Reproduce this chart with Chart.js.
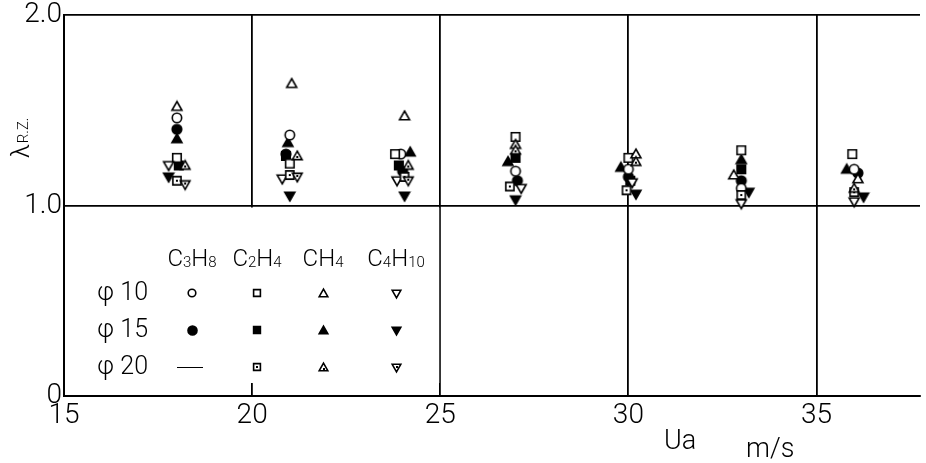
<!DOCTYPE html>
<html lang="en">
<head>
<meta charset="UTF-8">
<title>lambda R.Z. vs Ua</title>
<style>
  html, body { margin: 0; padding: 0; background: #fff; }
  #wrap { width: 926px; height: 463px; }
</style>
</head>
<body>
<div id="wrap"><canvas id="chart"></canvas></div>
<script src="https://cdn.jsdelivr.net/npm/chart.js"></script>
<script>
// ---- data (Ua in m/s, lambda R.Z.) ----
const xTicks = [15, 20, 25, 30, 35];
const yTicks = [0, 1, 2];

// C3H8
const c3h8_d10_x = [18.0, 21.0, 23.95, 27.0, 30.0, 33.0, 36.0];
const c3h8_d10_y = [1.46, 1.37, 1.27, 1.18, 1.19, 1.09, 1.19];
const c3h8_d15_x = [18.0, 20.9, 24.0, 27.05, 30.0, 33.0, 36.1];
const c3h8_d15_y = [1.40, 1.27, 1.18, 1.13, 1.15, 1.13, 1.17];
// C2H4
const c2h4_d10_x = [18.0, 21.0, 23.8, 27.0, 30.0, 33.0, 35.95];
const c2h4_d10_y = [1.25, 1.22, 1.27, 1.36, 1.25, 1.29, 1.27];
const c2h4_d15_x = [18.05, 20.9, 23.9, 27.0, 30.05, 33.0];
const c2h4_d15_y = [1.21, 1.26, 1.21, 1.25, 1.13, 1.19];
const c2h4_d20_x = [18.0, 21.0, 24.05, 26.85, 29.95, 33.0, 36.0];
const c2h4_d20_y = [1.13, 1.16, 1.15, 1.10, 1.08, 1.055, 1.07];
// CH4
const ch4_d10_x = [18.0, 21.05, 24.05, 27.0, 30.2, 32.8, 36.1];
const ch4_d10_y = [1.52, 1.64, 1.47, 1.32, 1.27, 1.16, 1.14];
const ch4_d15_x = [18.0, 20.95, 24.2, 26.8, 29.8, 33.0, 35.8];
const ch4_d15_y = [1.35, 1.33, 1.28, 1.23, 1.20, 1.24, 1.19];
const ch4_d20_x = [18.22, 21.2, 24.15, 27.0, 30.2, 36.0];
const ch4_d20_y = [1.21, 1.26, 1.21, 1.29, 1.23, 1.09];
// C4H10
const c4h10_d10_x = [17.78, 20.8, 23.85, 27.15, 30.1, 33.0, 36.0];
const c4h10_d10_y = [1.21, 1.14, 1.13, 1.09, 1.12, 1.01, 1.02];
const c4h10_d15_x = [17.78, 21.0, 24.05, 27.0, 30.2, 33.2, 36.25];
const c4h10_d15_y = [1.15, 1.05, 1.05, 1.03, 1.06, 1.07, 1.045];
const c4h10_d20_x = [18.22, 21.2, 24.15];
const c4h10_d20_y = [1.11, 1.15, 1.13];

const FONT = 'Roboto, "Liberation Sans", sans-serif';

// draw a marker into a small canvas, used as pointStyle
function marker(shape, filled, dot, r) {
  const s = Math.ceil(r * 2 + 4);
  const c = document.createElement('canvas');
  c.width = c.height = s;
  const g = c.getContext('2d');
  const m = s / 2;
  g.lineWidth = 1.6;
  g.strokeStyle = '#000';
  g.beginPath();
  if (shape === 'circle') g.arc(m, m, r, 0, 2 * Math.PI);
  else if (shape === 'square') g.rect(m - r * 0.85, m - r * 0.85, r * 1.7, r * 1.7);
  else if (shape === 'up') { g.moveTo(m, m - r); g.lineTo(m + r, m + r * 0.75); g.lineTo(m - r, m + r * 0.75); g.closePath(); }
  else { g.moveTo(m, m + r); g.lineTo(m + r, m - r * 0.75); g.lineTo(m - r, m - r * 0.75); g.closePath(); }
  g.fillStyle = filled ? '#000' : '#fff';
  g.fill();
  g.stroke();
  if (dot) {
    g.fillStyle = '#000';
    let dy = shape === 'up' ? 1 : shape === 'down' ? -1 : 0;
    g.fillRect(Math.round(m) - 1, Math.round(m + dy) - 1, 2, 2);
  }
  return c;
}

function pts(xs, ys) { return xs.map((x, i) => ({ x: x, y: ys[i] })); }

const kinds = [
  { xs: c4h10_d20_x, ys: c4h10_d20_y, m: marker('down', false, true, 4.8) },
  { xs: ch4_d20_x, ys: ch4_d20_y, m: marker('up', false, true, 4.8) },
  { xs: c2h4_d20_x, ys: c2h4_d20_y, m: marker('square', false, true, 4.8) },
  { xs: c4h10_d10_x, ys: c4h10_d10_y, m: marker('down', false, false, 5) },
  { xs: ch4_d10_x, ys: ch4_d10_y, m: marker('up', false, false, 5) },
  { xs: c2h4_d10_x, ys: c2h4_d10_y, m: marker('square', false, false, 5) },
  { xs: c3h8_d10_x, ys: c3h8_d10_y, m: marker('circle', false, false, 4.7) },
  { xs: c4h10_d15_x, ys: c4h10_d15_y, m: marker('down', true, false, 5) },
  { xs: ch4_d15_x, ys: ch4_d15_y, m: marker('up', true, false, 5) },
  { xs: c2h4_d15_x, ys: c2h4_d15_y, m: marker('square', true, false, 5) },
  { xs: c3h8_d15_x, ys: c3h8_d15_y, m: marker('circle', true, false, 4.8) }
];

// legend markers
const legRows = [
  ['φ 10', marker('circle', false, false, 3.8), marker('square', false, false, 4), marker('up', false, false, 4.3), marker('down', false, false, 4.3)],
  ['φ 15', marker('circle', true, false, 4.5), marker('square', true, false, 4), marker('up', true, false, 4.3), marker('down', true, false, 4.3)],
  ['φ 20', null, marker('square', false, true, 4), marker('up', false, true, 4.3), marker('down', false, true, 4.3)]
];
const legHead = [
  [['C', 0], ['3', 1], ['H', 0], ['8', 1]],
  [['C', 0], ['2', 1], ['H', 0], ['4', 1]],
  [['C', 0], ['H', 0], ['4', 1]],
  [['C', 0], ['4', 1], ['H', 0], ['10', 1]]
];

function formula(ctx, parts, cx, y, big, small) {
  let w = 0;
  parts.forEach(p => {
    ctx.font = '300 ' + (p[1] ? small : big) + 'px ' + FONT;
    w += ctx.measureText(p[0]).width;
  });
  let x = cx - w / 2;
  ctx.textAlign = 'left';
  ctx.textBaseline = 'alphabetic';
  parts.forEach(p => {
    ctx.font = '300 ' + (p[1] ? small : big) + 'px ' + FONT;
    ctx.fillText(p[0], x, y + (p[1] ? 1 : 0));
    x += ctx.measureText(p[0]).width;
  });
}

const decor = {
  id: 'decor',
  beforeDatasetsDraw(chart) {
    const ctx = chart.ctx;
    const xs = chart.scales.x, ys = chart.scales.y;
    const x15 = xs.getPixelForValue(15), x25 = xs.getPixelForValue(25);
    const y1 = ys.getPixelForValue(1), y0 = ys.getPixelForValue(0);
    ctx.save();
    // legend box: hide the 20 gridline, keep a short tick at the bottom
    ctx.fillStyle = '#fff';
    ctx.fillRect(x15 + 2, y1 + 2, x25 - x15 - 3, y0 - y1 - 15);

    ctx.fillStyle = '#000';
    const colX = [192, 257, 323, 396];
    legHead.forEach((h, i) => formula(ctx, h, colX[i], 266, 24, 15));
    const rowY = [293, 330, 367];
    legRows.forEach((r, j) => {
      ctx.font = '300 25px ' + FONT;
      ctx.textAlign = 'right';
      ctx.textBaseline = 'middle';
      ctx.fillText(r[0], 148, rowY[j] + 1);
      for (let i = 0; i < 4; i++) {
        const img = r[i + 1];
        if (img) ctx.drawImage(img, Math.round(colX[i] - img.width / 2), Math.round(rowY[j] - img.height / 2));
      }
    });
    // phi 20 C3H8 is a short line
    ctx.strokeStyle = '#000';
    ctx.lineWidth = 1;
    ctx.beginPath();
    ctx.moveTo(177, 367.5);
    ctx.lineTo(203, 367.5);
    ctx.stroke();
    ctx.restore();
  },
  afterDraw(chart) {
    const ctx = chart.ctx;
    ctx.save();
    ctx.fillStyle = '#000';
    // y title: lambda with subscript R.Z.
    ctx.translate(29, 158);
    ctx.rotate(-Math.PI / 2);
    ctx.textAlign = 'left';
    ctx.textBaseline = 'alphabetic';
    ctx.font = '300 25px ' + FONT;
    ctx.fillText('λ', 0, 0);
    const lw = ctx.measureText('λ').width;
    ctx.font = '300 15px ' + FONT;
    ctx.fillText('R.Z.', lw + 1, -1);
    ctx.restore();

    ctx.save();
    ctx.fillStyle = '#000';
    ctx.textAlign = 'left';
    ctx.textBaseline = 'alphabetic';
    ctx.font = '300 27px ' + FONT;
    ctx.fillText('Ua', 664, 449);
    ctx.fillText('m/s', 746, 457);
    ctx.restore();
  }
};

const tickFont = { family: FONT, size: 28, weight: '300' };

new Chart(document.getElementById('chart'), {
  type: 'scatter',
  data: {
    datasets: kinds.map(k => ({
      data: pts(k.xs, k.ys),
      pointStyle: k.m,
      pointRadius: 5,
      showLine: false
    }))
  },
  options: {
    responsive: true,
    maintainAspectRatio: false,
    animation: false,
    layout: { padding: { top: 15, left: 0, right: 0, bottom: 0 } },
    plugins: { legend: { display: false }, tooltip: { enabled: false } },
    scales: {
      x: {
        type: 'linear',
        min: 15,
        max: 37.75,
        afterBuildTicks: s => { s.ticks = xTicks.map(v => ({ value: v })); },
        afterFit: s => { s.height = 67; },
        ticks: { font: tickFont, color: '#000', padding: 3, maxRotation: 0, autoSkip: false },
        grid: { color: '#000', lineWidth: 1.8, drawTicks: false },
        border: { color: '#000', width: 2 }
      },
      y: {
        min: 0,
        max: 2,
        afterBuildTicks: s => { s.ticks = yTicks.map(v => ({ value: v })); },
        afterFit: s => { s.width = 64; s.paddingTop = 0; s.paddingBottom = 0; },
        ticks: {
          font: tickFont, color: '#000', padding: 2,
          callback: v => v === 0 ? '0' : v.toFixed(1)
        },
        grid: { color: '#000', lineWidth: 1.8, drawTicks: false },
        border: { color: '#000', width: 2 }
      }
    }
  },
  plugins: [decor]
});
</script>
</body>
</html>
